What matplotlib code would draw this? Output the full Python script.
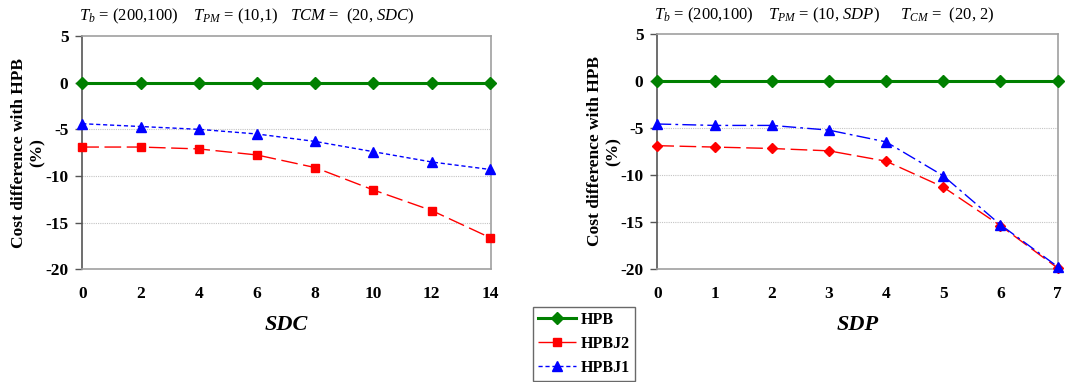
import matplotlib
matplotlib.use("Agg")
import matplotlib.pyplot as plt
from matplotlib.lines import Line2D

plt.rcParams['font.family'] = ['Liberation Serif', 'DejaVu Serif']
plt.rcParams['mathtext.fontset'] = 'custom'
plt.rcParams['mathtext.rm'] = 'Liberation Serif'
plt.rcParams['mathtext.it'] = 'Liberation Serif:italic'
plt.rcParams['axes.unicode_minus'] = False

# Left panel: varying SDC
sdc = [0, 2, 4, 6, 8, 10, 12, 14]
left_hpb = [0, 0, 0, 0, 0, 0, 0, 0]
left_hpbj2 = [-6.9, -6.9, -7.1, -7.75, -9.1, -11.5, -13.7, -16.6]
left_hpbj1 = [-4.4, -4.7, -5.0, -5.5, -6.3, -7.4, -8.5, -9.3]

# Right panel: varying SDP
sdp = [0, 1, 2, 3, 4, 5, 6, 7]
right_hpb = [0, 0, 0, 0, 0, 0, 0, 0]
right_hpbj2 = [-6.9, -7.05, -7.2, -7.45, -8.55, -11.3, -15.4, -19.9]
right_hpbj1 = [-4.6, -4.75, -4.75, -5.25, -6.5, -10.1, -15.3, -19.75]

# Parameter captions above each panel (pieces, left to right)
left_caption = [r'$T_b$ = (200,100)', r'$T_{PM}$ = (10,1)', r'$TCM$ =  (20, $SDC$)']
right_caption = [r'$T_b$ = (200,100)', r'$T_{PM}$ = (10, $SDP$)', r'$T_{CM}$ =  (20, 2)']

green = '#008000'
red = '#ff0000'
blue = '#0000ff'

W, H = 1084, 382
fig = plt.figure(figsize=(W / 100, H / 100), dpi=100)
ax1 = fig.add_axes([0.0759, 0.295, 0.3768, 0.6108])
ax2 = fig.add_axes([0.6064, 0.2958, 0.3700, 0.6162])


def style(ax, xs, xlabel, label_x):
    ax.set_ylim(-20, 5)
    ax.set_yticks([5, 0, -5, -10, -15, -20])
    ax.set_xticks(xs)
    ax.set_xlim(xs[0], xs[-1] * 1.002)
    for y in [-5, -10, -15]:
        ax.axhline(y, color='#c4c4c4', lw=0.8, ls=(0, (1, 1)), zorder=0)
    ax.spines['top'].set_color('#a0a0a0')
    ax.spines['right'].set_color('#a0a0a0')
    ax.spines['left'].set_color('#555555')
    ax.spines['bottom'].set_color('#a0a0a0')
    for s in ax.spines.values():
        s.set_linewidth(1.2)
    ax.tick_params(axis='y', length=5, width=1, color='#555555', pad=5,
                   labelsize=12.5)
    ax.tick_params(axis='x', length=0, pad=12, labelsize=12.5)
    for lab in ax.get_xticklabels() + ax.get_yticklabels():
        lab.set_fontweight('bold')
    ax.set_xlabel(xlabel, fontsize=16, fontweight='bold', style='italic')
    ax.xaxis.set_label_coords(0.5, -0.195)
    ax.set_ylabel('Cost difference with HPB\n(%)', fontsize=12.5,
                  fontweight='bold', linespacing=1.25)
    ax.yaxis.set_label_coords(label_x, 0.5)


ax1.plot(sdc, left_hpb, color=green, lw=2.2, marker='D', ms=6, clip_on=False, zorder=5)
ax1.plot(sdc, left_hpbj2, color=red, lw=1.0, ls=(0, (12, 4)), marker='s', ms=6,
         clip_on=False, zorder=4)
ax1.plot(sdc, left_hpbj1, color=blue, lw=1.0, ls=(0, (3, 2)), marker='^', ms=7,
         clip_on=False, zorder=4)
style(ax1, sdc, 'SDC', -0.089)

ax2.plot(sdp, right_hpb, color=green, lw=2.2, marker='D', ms=6, clip_on=False, zorder=5)
ax2.plot(sdp, right_hpbj2, color=red, lw=1.0, ls=(0, (12, 4)), marker='D', ms=5.5,
         clip_on=False, zorder=4)
ax2.plot(sdp, right_hpbj1, color=blue, lw=1.0, ls=(0, (10, 3, 2, 3)), marker='^', ms=7,
         clip_on=False, zorder=4)
style(ax2, sdp, 'SDP', -0.088)

for xs_px, parts, y_px in [((79, 193, 290), left_caption, 16),
                           ((654, 768, 900), right_caption, 15)]:
    for x_px, txt in zip(xs_px, parts):
        fig.text(x_px / W, 1 - y_px / H, txt, fontsize=12, ha='left', va='center')

handles = [
    Line2D([], [], color=green, lw=2.2, marker='D', ms=6),
    Line2D([], [], color=red, lw=1.0, ls=(0, (12, 4)), marker='s', ms=6),
    Line2D([], [], color=blue, lw=1.0, ls=(0, (3, 2)), marker='^', ms=7),
]
leg = fig.legend(handles, ['HPB', 'HPBJ2', 'HPBJ1'],
                 loc='upper left', bbox_to_anchor=(0.4917, 0.1963),
                 borderaxespad=0, frameon=True,
                 fancybox=False, edgecolor='#444444',
                 handlelength=2.4, handletextpad=0.3, borderpad=0.3,
                 labelspacing=0.5, prop={'weight': 'bold', 'size': 11.5})
leg.get_frame().set_linewidth(1.0)

fig.savefig('out.png', dpi=100)
